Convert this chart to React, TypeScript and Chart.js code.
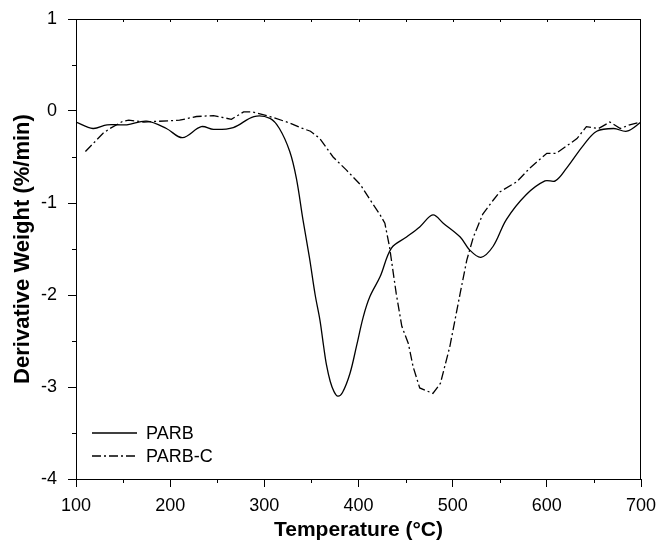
import React, { useEffect, useRef } from "react";
import { Chart, registerables } from "chart.js";

Chart.register(...registerables);

const PARB_T = [100, 118, 133, 154, 175, 196, 213, 233, 246, 267, 289, 306, 316, 327, 334, 341, 348, 354, 359, 363, 366, 370, 374, 378, 383, 391, 398, 405, 412, 423, 435, 451, 465, 479, 490, 508, 518, 530, 543, 557, 578, 598, 609, 621, 639, 653, 671, 685, 700];
const PARB_V = [-0.12, -0.19, -0.15, -0.15, -0.11, -0.19, -0.29, -0.17, -0.2, -0.18, -0.06, -0.08, -0.19, -0.44, -0.73, -1.18, -1.6, -2.0, -2.27, -2.56, -2.76, -2.94, -3.05, -3.1, -3.06, -2.85, -2.55, -2.24, -2.02, -1.8, -1.49, -1.37, -1.26, -1.13, -1.22, -1.37, -1.51, -1.59, -1.47, -1.18, -0.91, -0.76, -0.76, -0.62, -0.37, -0.22, -0.19, -0.22, -0.12];

const PARBC_T = [110, 129, 136, 150, 156, 172, 210, 228, 246, 265, 278, 287, 306, 327, 338, 349, 359, 373, 387, 402, 412, 423, 428, 433, 440, 446, 453, 458, 465, 479, 487, 497, 508, 515, 522, 532, 543, 550, 568, 582, 600, 610, 632, 642, 655, 667, 678, 688, 700];
const PARBC_V = [-0.44, -0.24, -0.19, -0.11, -0.1, -0.12, -0.1, -0.06, -0.05, -0.09, -0.01, -0.01, -0.06, -0.13, -0.18, -0.22, -0.3, -0.5, -0.64, -0.8, -0.96, -1.13, -1.22, -1.48, -1.98, -2.34, -2.53, -2.78, -3.01, -3.07, -2.96, -2.56, -1.98, -1.62, -1.37, -1.12, -0.97, -0.88, -0.77, -0.62, -0.46, -0.46, -0.3, -0.17, -0.19, -0.12, -0.19, -0.15, -0.12];

const SERIES_NAMES = ["PARB", "PARB-C"];
const X_MIN = 100, X_MAX = 700, X_STEP = 100;
const Y_MIN = -4, Y_MAX = 1, Y_STEP = 1;
const X_TITLE = "Temperature (°C)";
const Y_TITLE = "Derivative Weight (%/min)";

const FONT = "'Liberation Sans', Arial, sans-serif";
const DASH = [9, 3, 2, 3];

const framePlugin = {
  id: "frame",
  afterDraw(chart: any) {
    const ctx = chart.ctx;
    const { left, right, top, bottom } = chart.chartArea;
    const xs = chart.scales.x;
    const ys = chart.scales.y;
    ctx.save();
    ctx.strokeStyle = "#000";
    ctx.lineWidth = 1;
    ctx.beginPath();
    ctx.moveTo(left, top + 0.5);
    ctx.lineTo(right, top + 0.5);
    ctx.moveTo(right - 0.5, top);
    ctx.lineTo(right - 0.5, bottom);
    for (let v = X_MIN + X_STEP / 2; v < X_MAX; v += X_STEP / 2) {
      const px = Math.round(xs.getPixelForValue(v)) + 0.5;
      ctx.moveTo(px, top);
      ctx.lineTo(px, top + 3);
    }
    for (let v = X_MIN + X_STEP / 2; v < X_MAX; v += X_STEP) {
      const px = Math.round(xs.getPixelForValue(v)) + 0.5;
      ctx.moveTo(px, bottom);
      ctx.lineTo(px, bottom + 4);
    }
    for (let v = Y_MIN + Y_STEP / 2; v < Y_MAX; v += Y_STEP) {
      const py = Math.round(ys.getPixelForValue(v)) + 0.5;
      ctx.moveTo(left - 4, py);
      ctx.lineTo(left, py);
    }
    ctx.stroke();

    const lx0 = left + 16, lx1 = left + 61, tx = left + 70;
    const rows = [bottom - 46, bottom - 23];
    ctx.font = `18px ${FONT}`;
    ctx.fillStyle = "#000";
    ctx.textBaseline = "middle";
    ctx.textAlign = "left";
    rows.forEach((y, i) => {
      ctx.lineWidth = 1.3;
      ctx.setLineDash(i === 0 ? [] : DASH);
      ctx.beginPath();
      ctx.moveTo(lx0, y);
      ctx.lineTo(lx1, y);
      ctx.stroke();
      ctx.setLineDash([]);
      ctx.fillText(SERIES_NAMES[i], tx, y + 1);
    });
    ctx.restore();
  },
};

export default function App() {
  const ref = useRef<HTMLCanvasElement>(null);
  useEffect(() => {
    const canvas = ref.current;
    if (!canvas) return;
    const chart = new Chart(canvas, {
      type: "line",
      data: {
        datasets: [
          {
            label: SERIES_NAMES[0],
            data: PARB_T.map((t, i) => ({ x: t, y: PARB_V[i] })),
            borderColor: "#000",
            borderWidth: 1.3,
            pointRadius: 0,
            tension: 0.35,
            fill: false,
          },
          {
            label: SERIES_NAMES[1],
            data: PARBC_T.map((t, i) => ({ x: t, y: PARBC_V[i] })),
            borderColor: "#000",
            borderWidth: 1.3,
            borderDash: DASH,
            pointRadius: 0,
            tension: 0,
            fill: false,
          },
        ],
      },
      options: {
        responsive: false,
        animation: false,
        layout: { padding: { top: 19, right: 18, left: 0, bottom: 0 } },
        plugins: { legend: { display: false }, tooltip: { enabled: false } },
        scales: {
          x: {
            type: "linear",
            min: X_MIN,
            max: X_MAX,
            ticks: { stepSize: X_STEP, color: "#000", font: { family: FONT, size: 18 }, padding: 8, maxRotation: 0 },
            grid: { drawOnChartArea: false, drawTicks: true, tickLength: 8, color: "#000" },
            border: { display: true, color: "#000", width: 1 },
            title: { display: true, text: X_TITLE, color: "#000", font: { family: FONT, size: 21, weight: "bold", lineHeight: 1.05 }, padding: { top: 0, bottom: 0 } },
            afterFit: (s: any) => { s.height = 62; s.paddingLeft = 0; s.paddingRight = 0; },
          },
          y: {
            type: "linear",
            min: Y_MIN,
            max: Y_MAX,
            ticks: { stepSize: Y_STEP, color: "#000", font: { family: FONT, size: 18 }, padding: 11 },
            grid: { drawOnChartArea: false, drawTicks: true, tickLength: 8, color: "#000" },
            border: { display: true, color: "#000", width: 1 },
            title: { display: true, text: Y_TITLE, color: "#000", font: { family: FONT, size: 22, weight: "bold", lineHeight: 1.2 }, padding: { top: 10, bottom: 0 } },
            afterFit: (s: any) => { s.width = 76; s.paddingTop = 0; s.paddingBottom = 0; },
          },
        },
      },
      plugins: [framePlugin],
    } as any);
    return () => chart.destroy();
  }, []);
  return (
    <div style={{ position: "absolute", left: 0, top: 0, width: 659, height: 541, background: "#fff" }}>
      <canvas ref={ref} width={659} height={541} />
    </div>
  );
}
